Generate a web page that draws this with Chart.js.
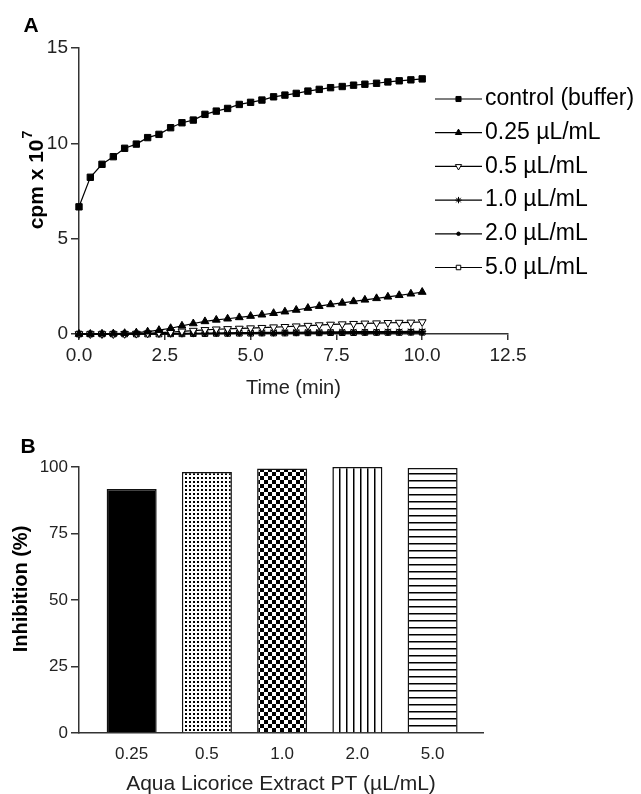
<!DOCTYPE html>
<html>
<head>
<meta charset="utf-8">
<script src="https://cdn.jsdelivr.net/npm/chart.js@4.4.1/dist/chart.umd.min.js"></script>
<style>
  html, body { margin: 0; padding: 0; background: #fff; }
  #wrap { position: relative; width: 641px; height: 794px; }
  #chartA { position: absolute; left: 0; top: 0; }
  #chartB { position: absolute; left: 0; top: 400px; }
</style>
</head>
<body>
<div id="wrap">
  <canvas id="chartA" width="641" height="400"></canvas>
  <canvas id="chartB" width="641" height="394"></canvas>
</div>
<script>
// ---- Panel A data (cpm x 10^7 vs time, one reading every 20 s) ----
const timeMin = [0, 0.33, 0.67, 1, 1.33, 1.67, 2, 2.33, 2.67, 3, 3.33, 3.67, 4, 4.33, 4.67,
                 5, 5.33, 5.67, 6, 6.33, 6.67, 7, 7.33, 7.67, 8, 8.33, 8.67, 9, 9.33, 9.67, 10];
const seriesLabels = ['control (buffer)', '0.25 \u00b5L/mL', '0.5 \u00b5L/mL', '1.0 \u00b5L/mL', '2.0 \u00b5L/mL', '5.0 \u00b5L/mL'];
const controlBuffer = [6.67, 8.22, 8.9, 9.3, 9.74, 9.96, 10.3, 10.47, 10.82, 11.08, 11.22, 11.52, 11.69, 11.83, 12.04,
                       12.15, 12.27, 12.44, 12.53, 12.62, 12.74, 12.83, 12.92, 12.98, 13.05, 13.1, 13.15, 13.22, 13.28, 13.33, 13.38];
const dose025 = [0, 0, 0.01, 0.02, 0.04, 0.07, 0.12, 0.2, 0.3, 0.43, 0.55, 0.66, 0.74, 0.8, 0.87,
                 0.94, 1.01, 1.09, 1.17, 1.26, 1.36, 1.46, 1.55, 1.63, 1.71, 1.79, 1.87, 1.95, 2.03, 2.11, 2.2];
const dose05 = [0, 0, 0, 0, 0.01, 0.02, 0.04, 0.07, 0.1, 0.14, 0.18, 0.22, 0.25, 0.27, 0.29,
                0.31, 0.33, 0.36, 0.38, 0.41, 0.44, 0.47, 0.5, 0.52, 0.54, 0.56, 0.57, 0.59, 0.6, 0.61, 0.63];
const dose10 = [0, 0, 0, 0, 0, 0, 0.01, 0.01, 0.02, 0.03, 0.04, 0.05, 0.05, 0.06, 0.07,
                0.07, 0.08, 0.08, 0.09, 0.09, 0.1, 0.1, 0.11, 0.11, 0.12, 0.12, 0.12, 0.13, 0.13, 0.14, 0.14];
const dose20 = [0, 0, 0, 0, 0, 0, 0, 0.01, 0.01, 0.01, 0.02, 0.02, 0.02, 0.02, 0.03,
                0.03, 0.03, 0.03, 0.04, 0.04, 0.04, 0.04, 0.04, 0.05, 0.05, 0.05, 0.05, 0.05, 0.06, 0.06, 0.06];
const dose50 = [0, 0, 0, 0, 0, 0, 0, 0, 0.01, 0.01, 0.02, 0.02, 0.03, 0.03, 0.04,
                0.04, 0.05, 0.05, 0.05, 0.06, 0.06, 0.06, 0.07, 0.07, 0.07, 0.08, 0.08, 0.08, 0.08, 0.09, 0.09];
const timeTicks = [0, 2.5, 5, 7.5, 10, 12.5];
const cpmTicks = [0, 5, 10, 15];

// ---- Panel B data (inhibition %) ----
const extractDoses = ['0.25', '0.5', '1.0', '2.0', '5.0'];
const inhibition = [91.7, 98.1, 99.4, 100, 99.6];
const inhibitionTicks = [0, 25, 50, 75, 100];

const FONT = '"Liberation Sans", Arial, sans-serif';
Chart.defaults.font.family = FONT;
Chart.defaults.color = '#222';

// panel letter + rotated y title (with optional superscript)
const panelText = {
  id: 'panelText',
  afterDraw(chart, args, opts) {
    const ctx = chart.ctx;
    ctx.save();
    ctx.fillStyle = '#000';
    ctx.textBaseline = 'middle';
    ctx.textAlign = 'center';
    ctx.font = 'bold 21px ' + FONT;
    ctx.fillText(opts.letter, opts.letterX, opts.letterY);

    ctx.translate(opts.titleX, opts.titleY);
    ctx.rotate(-Math.PI / 2);
    ctx.textAlign = 'left';
    ctx.font = 'bold ' + opts.titleSize + 'px ' + FONT;
    const w1 = ctx.measureText(opts.title).width;
    let w2 = 0;
    if (opts.sup) {
      ctx.font = 'bold 14px ' + FONT;
      w2 = ctx.measureText(opts.sup).width + 1;
    }
    const x0 = -(w1 + w2) / 2;
    ctx.font = 'bold ' + opts.titleSize + 'px ' + FONT;
    ctx.fillText(opts.title, x0, 0);
    if (opts.sup) {
      ctx.font = 'bold 14px ' + FONT;
      ctx.fillText(opts.sup, x0 + w1 + 1, -9);
    }
    ctx.restore();
  }
};

// line + marker legend for panel A
const lineLegend = {
  id: 'lineLegend',
  afterDraw(chart, args, opts) {
    const ctx = chart.ctx;
    ctx.save();
    chart.data.datasets.forEach((ds, i) => {
      const y = opts.top + i * opts.gap;
      ctx.strokeStyle = '#000';
      ctx.lineWidth = 1.2;
      ctx.beginPath();
      ctx.moveTo(opts.x0, y);
      ctx.lineTo(opts.x1, y);
      ctx.stroke();
      ctx.fillStyle = ds.pointBackgroundColor;
      ctx.strokeStyle = ds.pointBorderColor;
      ctx.lineWidth = 1;
      Chart.helpers.drawPoint(ctx, {
        pointStyle: ds.pointStyle,
        rotation: ds.pointRotation || 0,
        radius: ds.pointRadius * 0.8,
        borderWidth: 1
      }, (opts.x0 + opts.x1) / 2, y);
      ctx.fillStyle = '#000';
      ctx.font = '23px ' + FONT;
      ctx.textAlign = 'left';
      ctx.textBaseline = 'middle';
      ctx.fillText(ds.label, opts.textX, y);
    });
    ctx.restore();
  }
};

function lineSet(label, values, style, radius, fill, rotation) {
  return {
    label: label,
    data: values.map((v, i) => ({ x: timeMin[i], y: v })),
    borderColor: '#000',
    borderWidth: 1.2,
    pointStyle: style,
    pointRadius: radius,
    pointRotation: rotation || 0,
    pointBackgroundColor: fill,
    pointBorderColor: '#000',
    pointBorderWidth: 1,
    tension: 0,
    clip: false
  };
}

const axisGrid = { drawOnChartArea: false, color: '#333', lineWidth: 1.5 };
const axisBorder = { color: '#333', width: 1.5 };

new Chart(document.getElementById('chartA'), {
  type: 'line',
  data: {
    datasets: [
      lineSet(seriesLabels[0], controlBuffer, 'rect', 4.5, '#000'),
      lineSet(seriesLabels[1], dose025, 'triangle', 4.5, '#000'),
      lineSet(seriesLabels[2], dose05, 'triangle', 4.5, '#fff', 180),
      lineSet(seriesLabels[3], dose10, 'star', 4, '#000'),
      lineSet(seriesLabels[4], dose20, 'circle', 2.2, '#000'),
      lineSet(seriesLabels[5], dose50, 'rect', 4, '#fff')
    ]
  },
  options: {
    responsive: false,
    animation: false,
    events: [],
    layout: { padding: { top: 48, right: 133, left: 0, bottom: 0 } },
    plugins: {
      legend: { display: false },
      tooltip: { enabled: false },
      panelText: { letter: 'A', letterX: 31, letterY: 26, title: 'cpm x 10', sup: '7', titleSize: 21, titleX: 37, titleY: 180 },
      lineLegend: { x0: 435, x1: 482, textX: 485, top: 99, gap: 33.7 }
    },
    scales: {
      x: {
        type: 'linear', min: 0, max: 12.5,
        afterBuildTicks: s => { s.ticks = timeTicks.map(v => ({ value: v })); },
        afterFit: s => { s.height = 66; },
        grid: Object.assign({ tickLength: 6 }, axisGrid),
        border: axisBorder,
        ticks: { padding: 4, font: { size: 19 }, callback: v => v.toFixed(1) },
        title: { display: true, text: 'Time (min)', font: { size: 20 }, padding: { top: 0, bottom: 0 } }
      },
      y: {
        type: 'linear', min: 0, max: 15,
        afterBuildTicks: s => { s.ticks = cpmTicks.map(v => ({ value: v })); },
        afterFit: s => { s.width = 79; },
        grid: Object.assign({ tickLength: 8 }, axisGrid),
        border: axisBorder,
        ticks: { padding: 3, font: { size: 19 } }
      }
    }
  },
  plugins: [panelText, lineLegend]
});

// ---- Panel B: patterned bars ----
const ctxB = document.getElementById('chartB').getContext('2d');
function makePattern(w, h, draw) {
  const c = document.createElement('canvas');
  c.width = w; c.height = h;
  const g = c.getContext('2d');
  g.fillStyle = '#fff';
  g.fillRect(0, 0, w, h);
  g.fillStyle = '#000';
  draw(g);
  return ctxB.createPattern(c, 'repeat');
}
const barFills = [
  '#000',
  makePattern(4, 4, g => g.fillRect(1, 1, 2, 2)),
  makePattern(8, 8, g => { g.fillRect(0, 0, 4, 4); g.fillRect(4, 4, 4, 4); }),
  makePattern(7, 4, g => g.fillRect(3, 0, 1.5, 4)),
  makePattern(4, 7, g => g.fillRect(0, 3, 4, 1.5))
];

new Chart(ctxB, {
  type: 'bar',
  data: {
    datasets: [{
      data: inhibition.map((v, i) => ({ x: i, y: v })),
      backgroundColor: barFills,
      borderColor: '#111',
      borderWidth: 1.5,
      barPercentage: 0.665,
      categoryPercentage: 1
    }]
  },
  options: {
    responsive: false,
    animation: false,
    events: [],
    layout: { padding: { top: 67, right: 158, left: 0, bottom: 0 } },
    plugins: {
      legend: { display: false },
      tooltip: { enabled: false },
      panelText: { letter: 'B', letterX: 28, letterY: 47, title: 'Inhibition (%)', titleSize: 20, titleX: 21, titleY: 189 }
    },
    scales: {
      x: {
        type: 'linear', min: -0.7, max: 4.67, offset: false,
        afterBuildTicks: s => { s.ticks = extractDoses.map((d, i) => ({ value: i })); },
        afterFit: s => { s.height = 61; },
        grid: { display: false, drawTicks: false },
        border: axisBorder,
        ticks: { padding: 11, font: { size: 17 }, callback: v => extractDoses[v] },
        title: { display: true, text: 'Aqua Licorice Extract PT (\u00b5L/mL)', font: { size: 21 }, padding: { top: 0, bottom: -3 } }
      },
      y: {
        min: 0, max: 100,
        afterBuildTicks: s => { s.ticks = inhibitionTicks.map(v => ({ value: v })); },
        afterFit: s => { s.width = 79; },
        grid: Object.assign({ tickLength: 8 }, axisGrid),
        border: axisBorder,
        ticks: { padding: 3, font: { size: 17 } }
      }
    }
  },
  plugins: [panelText]
});
</script>
</body>
</html>
